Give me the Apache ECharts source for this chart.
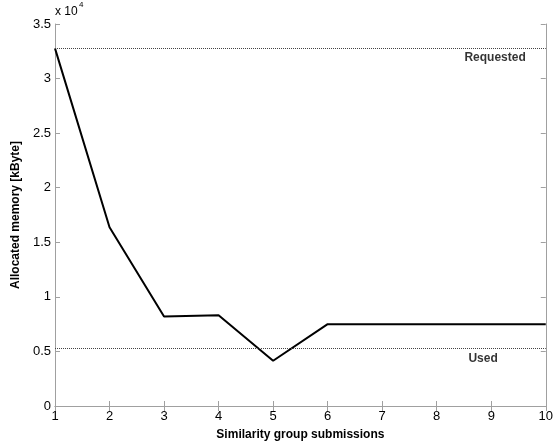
<!DOCTYPE html>
<html>
<head>
<meta charset="utf-8">
<script src="https://cdn.jsdelivr.net/npm/echarts@6/dist/echarts.min.js"></script>
<style>html,body{margin:0;padding:0;background:#fff}#c{width:556px;height:446px}</style>
</head>
<body>
<div id="c"></div>
<script>
var submissions = [1, 2, 3, 4, 5, 6, 7, 8, 9, 10];
var allocated = [32768, 16384, 8200, 8320, 4150, 7500, 7500, 7500, 7500, 7500];
var requestedLevel = 32768;
var usedLevel = 5300;
var annotations = [
  {text: 'Requested', x: 9.07, y: 31900},
  {text: 'Used', x: 8.85, y: 4350}
];
var yTickValues = [0, 5000, 10000, 15000, 20000, 25000, 30000, 35000];
var xTitle = 'Similarity group submissions';
var yTitle = 'Allocated memory [kByte]';

var axisColor = '#a0a0a0';
var font = 'Liberation Sans, Arial, sans-serif';
var chart = echarts.init(document.getElementById('c'), null, {renderer: 'canvas'});
var tickStyle = {show: true, inside: true, length: 5, lineStyle: {color: axisColor}};
chart.setOption({
  animation: false,
  grid: {left: 55, right: 8, top: 24, bottom: 35, show: false},
  xAxis: [{
    type: 'value', min: 1, max: 10, interval: 1, position: 'bottom',
    name: xTitle, nameLocation: 'middle', nameGap: 23,
    nameTextStyle: {fontFamily: font, fontSize: 12, fontWeight: 'bold', color: '#000'},
    axisLine: {show: true, lineStyle: {color: axisColor, width: 1}},
    axisTick: tickStyle,
    axisLabel: {fontFamily: font, fontSize: 13, color: '#000', margin: 4},
    splitLine: {show: false}
  }, {
    type: 'value', min: 1, max: 10, interval: 1, position: 'top',
    axisLine: {show: true, lineStyle: {color: axisColor, width: 1}},
    axisTick: tickStyle, axisLabel: {show: false}, splitLine: {show: false}
  }],
  yAxis: [{
    type: 'value', min: 0, max: 35000, interval: 5000, position: 'left',
    name: yTitle, nameLocation: 'middle', nameGap: 24, nameRotate: 90,
    nameTextStyle: {fontFamily: font, fontSize: 12, fontWeight: 'bold', color: '#000'},
    axisLine: {show: true, lineStyle: {color: axisColor, width: 1}},
    axisTick: tickStyle,
    axisLabel: {fontFamily: font, fontSize: 13, color: '#000', margin: 4,
      formatter: function (v) { return yTickValues.indexOf(v) >= 0 ? String(v / 10000) : ''; }},
    splitLine: {show: false}
  }, {
    type: 'value', min: 0, max: 35000, interval: 5000, position: 'right',
    axisLine: {show: true, lineStyle: {color: axisColor, width: 1}},
    axisTick: tickStyle, axisLabel: {show: false}, splitLine: {show: false}
  }],
  graphic: [
    {type: 'text', left: 55, top: 6, style: {text: 'x 10', font: '12px ' + font, fill: '#000'}},
    {type: 'text', left: 79, top: 1, style: {text: '4', font: '8px ' + font, fill: '#000'}}
  ],
  series: [{
    type: 'line',
    data: submissions.map(function (s, i) { return [s, allocated[i]]; }),
    showSymbol: false, symbol: 'none',
    lineStyle: {color: '#000', width: 2},
    z: 3,
    markLine: {
      silent: true, symbol: ['none', 'none'],
      lineStyle: {color: '#444', type: 'dotted', width: 1},
      label: {show: false},
      data: [{yAxis: requestedLevel}, {yAxis: usedLevel}]
    }
  }, {
    type: 'scatter',
    symbolSize: 0,
    data: annotations.map(function (a) { return {value: [a.x, a.y], name: a.text}; }),
    label: {show: true, position: 'inside', formatter: '{b}',
      fontFamily: font, fontSize: 12, fontWeight: 'bold', color: '#000'},
    silent: true
  }]
});
</script>
</body>
</html>
